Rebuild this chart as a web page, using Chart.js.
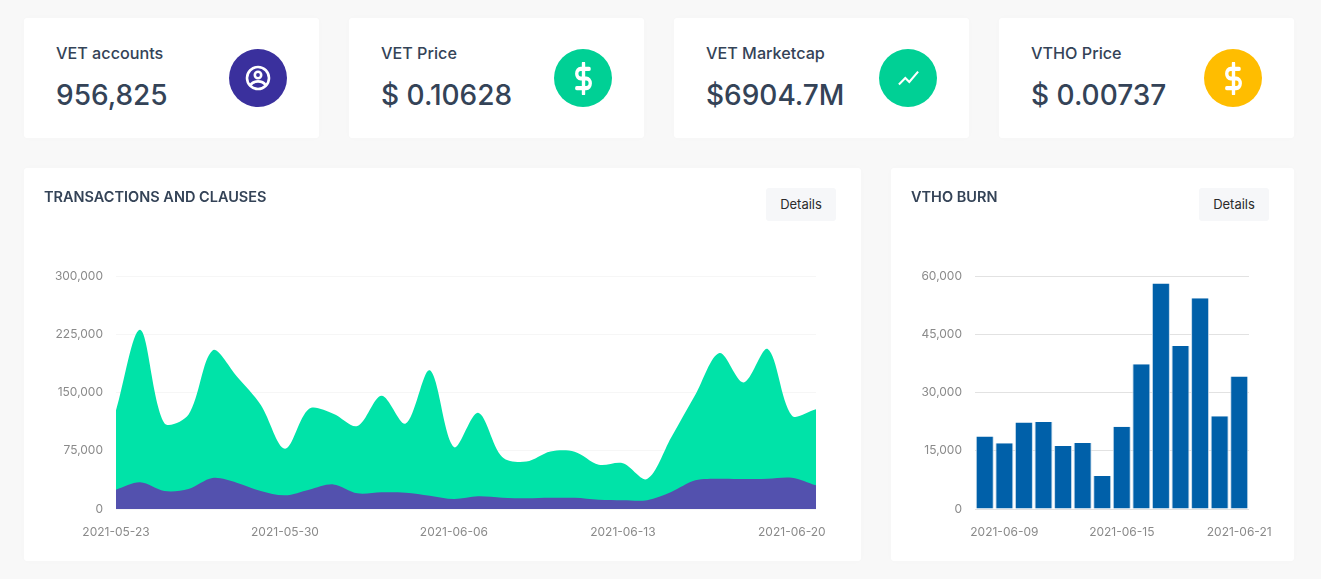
<!DOCTYPE html>
<html>
<head>
<meta charset="utf-8">
<title>VET dashboard</title>
<script src="https://cdn.jsdelivr.net/npm/chart.js@4"></script>
<style>
  body { margin: 0; background: #f8f8f8; font-family: Inter, "Noto Sans", sans-serif; overflow: hidden; }
  .card { position: absolute; background: #fff; border-radius: 3px; box-shadow: 0 0 8px rgba(0,0,0,0.015); color: #344357; }
  .stat { top: 18px; width: 295px; height: 120px; }
  .stat .label { position: absolute; left: 32px; top: 25px; font-size: 16.2px; font-weight: 500; line-height: 21px; }
  .stat .value { position: absolute; left: 32px; top: 58px; font-size: 28px; font-weight: 500; line-height: 38px; }
  .stat .icon { position: absolute; left: 205px; top: 31px; width: 58px; height: 58px; border-radius: 50%; display: flex; align-items: center; justify-content: center; }
  .panel { top: 168px; height: 393px; }
  .panel h4 { position: absolute; left: 20px; top: 19px; margin: 0; font-size: 14.5px; line-height: 20px; font-weight: 600; }
  .panel .btn { position: absolute; top: 20px; height: 33px; line-height: 33px; text-align: center; background: #f6f7f9; border-radius: 3px; font-size: 13px; color: #2b2b2b; width: 70px; }
  canvas { position: absolute; left: 0; top: 0; }
</style>
</head>
<body>

<div class="card stat" style="left:24px">
  <div class="label">VET accounts</div><div class="value">956,825</div>
  <div class="icon" style="background:#3a309d">
    <svg width="26" height="26" viewBox="0 0 26 26" fill="none" stroke="#fff" stroke-width="2.600"><circle cx="13" cy="13" r="11"/><circle cx="13" cy="10" r="3.200"/><path d="M5.500 20c2-3 4.500-3.600 7.500-3.600s5.500.6 7.500 3.600"/></svg>
  </div>
</div>
<div class="card stat" style="left:349px">
  <div class="label">VET Price</div><div class="value">$ 0.10628</div>
  <div class="icon" style="background:#00d095">
    <svg width="27" height="33" viewBox="0 0 24 24" preserveAspectRatio="none" fill="none" stroke="#fff" stroke-width="3" stroke-linecap="round" stroke-linejoin="round"><path d="M12 1v22"/><path d="M17 5H9.500a3.500 3.500 0 0 0 0 7h5a3.500 3.500 0 0 1 0 7H6"/></svg>
  </div>
</div>
<div class="card stat" style="left:674px">
  <div class="label">VET Marketcap</div><div class="value">$6904.7M</div>
  <div class="icon" style="background:#00d095">
    <svg width="21" height="16" viewBox="0 0 26 20" fill="none" stroke="#fff" stroke-width="2.600"><path d="M1 18l8-8 5 5 11-13"/></svg>
  </div>
</div>
<div class="card stat" style="left:999px">
  <div class="label">VTHO Price</div><div class="value">$ 0.00737</div>
  <div class="icon" style="background:#ffbd00">
    <svg width="27" height="33" viewBox="0 0 24 24" preserveAspectRatio="none" fill="none" stroke="#fff" stroke-width="3" stroke-linecap="round" stroke-linejoin="round"><path d="M12 1v22"/><path d="M17 5H9.500a3.500 3.500 0 0 0 0 7h5a3.500 3.500 0 0 1 0 7H6"/></svg>
  </div>
</div>

<div class="card panel" style="left:24px;width:837px">
  <canvas id="areaChart" width="837" height="393"></canvas>
  <h4>TRANSACTIONS AND CLAUSES</h4>
  <div class="btn" style="left:742px">Details</div>
</div>
<div class="card panel" style="left:891px;width:403px">
  <canvas id="barChart" width="403" height="393"></canvas>
  <h4>VTHO BURN</h4>
  <div class="btn" style="left:308px">Details</div>
</div>

<script>
// Transactions and clauses
const txDates = [
  "2021-05-23","2021-05-24","2021-05-25","2021-05-26","2021-05-27","2021-05-28",
  "2021-05-29","2021-05-30","2021-05-31","2021-06-01","2021-06-02","2021-06-03",
  "2021-06-04","2021-06-05","2021-06-06","2021-06-07","2021-06-08","2021-06-09",
  "2021-06-10","2021-06-11","2021-06-12","2021-06-13","2021-06-14","2021-06-15",
  "2021-06-16","2021-06-17","2021-06-18","2021-06-19","2021-06-20","2021-06-21"
];
const clauses = [
  127000,230800,110700,121400,204200,171000,134000,77600,129000,122700,
  106800,145900,110000,178500,79800,124000,67000,61000,74000,73800,
  57000,58800,38600,92000,147000,200800,163000,206000,120500,128300
];
const transactions = [
  24900,34300,23200,25700,39900,33900,23200,17600,24900,31700,
  20200,21500,21000,17200,12900,16300,14600,13700,14400,14400,
  12000,11400,11400,21900,36900,39000,38600,39000,40300,30500
];
const txTickLabels = ["2021-05-23","2021-05-30","2021-06-06","2021-06-13","2021-06-20"];

// VTHO burn
const burnDates = [
  "2021-06-08","2021-06-09","2021-06-10","2021-06-11","2021-06-12","2021-06-13","2021-06-14",
  "2021-06-15","2021-06-16","2021-06-17","2021-06-18","2021-06-19","2021-06-20","2021-06-21"
];
const burned = [18700,16900,22300,22400,16200,17000,8500,21200,37300,58100,42000,54300,23900,34100];
const burnTickLabels = ["2021-06-09","2021-06-15","2021-06-21"];

Chart.defaults.font.family = "Inter, 'Noto Sans', sans-serif";
Chart.defaults.font.size = 12;
Chart.defaults.color = "#8a8a8a";
Chart.defaults.animation = false;
Chart.defaults.responsive = false;
Chart.defaults.plugins.legend.display = false;
Chart.defaults.plugins.tooltip.enabled = false;

function xTicks(labels, shown) {
  return {
    autoSkip: false,
    maxRotation: 0,
    padding: 8,
    callback: function (value) {
      let label = labels[value];
      return shown.includes(label) ? label : "";
    },
  };
}

function yTicks(step) {
  return {
    stepSize: step,
    padding: 13,
    callback: function (value) {
      return value.toLocaleString("en-US");
    },
  };
}

new Chart(document.getElementById("areaChart"), {
  type: "line",
  data: {
    labels: txDates,
    datasets: [
      { label: "Transactions", data: transactions, backgroundColor: "#5351ae", order: 1 },
      { label: "Clauses", data: clauses, backgroundColor: "#00e3a8", order: 2 },
    ].map(function (d) {
      return Object.assign(d, { fill: "origin", borderWidth: 0, pointRadius: 0, tension: 0.32 });
    }),
  },
  options: {
    layout: { autoPadding: false, padding: { top: 108, right: 45 } },
    scales: {
      x: {
        offset: false,
        grid: { display: false },
        border: { display: false },
        ticks: xTicks(txDates, txTickLabels),
        afterFit: function (scale) { scale.height = 52; },
      },
      y: {
        min: 0,
        max: 300000,
        grid: { color: "#f6f6f6", drawTicks: false },
        border: { display: false },
        ticks: yTicks(75000),
        afterFit: function (scale) { scale.width = 92; },
      },
    },
  },
});

new Chart(document.getElementById("barChart"), {
  type: "bar",
  data: {
    labels: burnDates,
    datasets: [
      {
        label: "VTHO burn",
        data: burned,
        backgroundColor: "#0060a9",
        borderColor: "#c4d9ea",
        borderWidth: { left: 1, right: 1, top: 0, bottom: 0 },
        categoryPercentage: 0.92,
        barPercentage: 1,
      },
    ],
  },
  options: {
    layout: { autoPadding: false, padding: { top: 108, right: 45 } },
    scales: {
      x: {
        grid: { display: false },
        border: { display: false },
        ticks: xTicks(burnDates, burnTickLabels),
        afterFit: function (scale) { scale.height = 52; },
      },
      y: {
        min: 0,
        max: 60000,
        grid: { color: "#e2e2e2", drawTicks: false },
        border: { display: false },
        ticks: yTicks(15000),
        afterFit: function (scale) { scale.width = 84; },
      },
    },
  },
});
</script>
</body>
</html>
